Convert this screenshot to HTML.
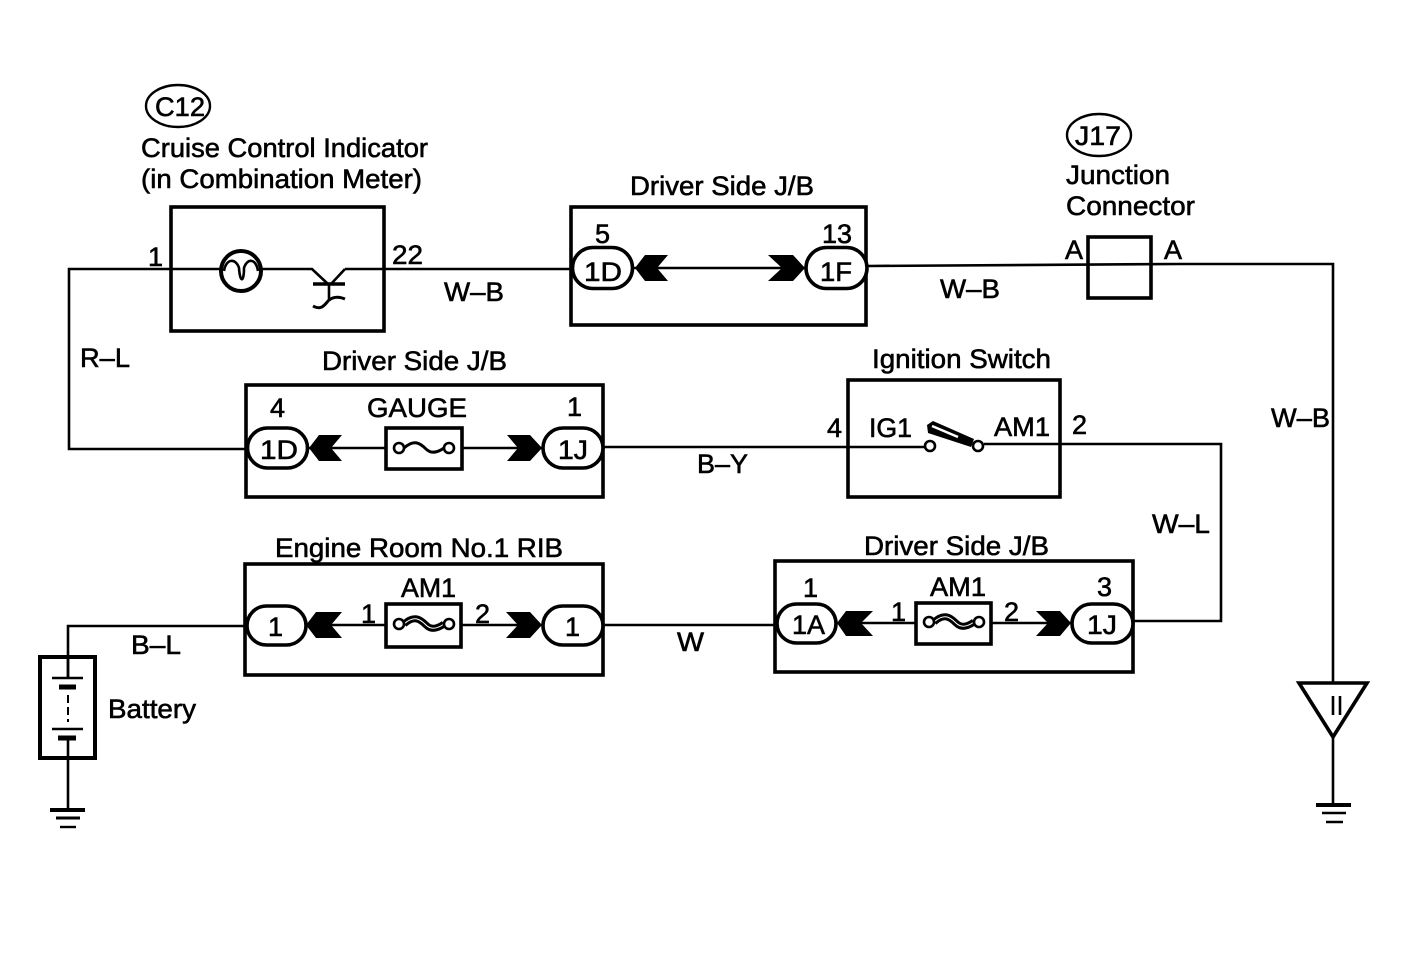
<!DOCTYPE html>
<html><head><meta charset="utf-8"><style>
html,body{margin:0;padding:0;background:#fff}
svg{display:block}
text{font-family:"Liberation Sans",sans-serif;font-size:27px;fill:#000;stroke:#000;stroke-width:.6px}
</style></head><body>
<svg width="1408" height="958" viewBox="0 0 1408 958" xmlns="http://www.w3.org/2000/svg">
<rect width="1408" height="958" fill="#fff"/>
<g fill="none" stroke="#000" stroke-width="2.6">
<path d="M220 269H69V449H247"/>
<path d="M262 269H312L328 284M345 269L331 284M345 269H571"/>
<path d="M868 266L1180 264H1333V683"/>
<path d="M634 268H805"/>
<path d="M308 448H542"/>
<path d="M603 447H925M984 444H1221V621H1133"/>
<path d="M305 625H542M603 625H777"/>
<path d="M836 623H1071"/>
<path d="M245 626H68V678"/>
<path d="M1333 738V804"/>
<path d="M68 738V810"/>
<path d="M329 284V300"/>
<path d="M313 306C322 311 325 304 329 300C333 297 338 296 345 299" stroke-width="3"/>
</g>
<g fill="none" stroke="#000" stroke-width="3.6">
<rect x="171" y="207" width="213" height="124"/>
<rect x="571" y="207" width="295" height="118"/>
<rect x="246" y="385" width="357" height="112"/>
<rect x="848" y="380" width="212" height="117"/>
<rect x="245" y="564" width="358" height="111"/>
<rect x="775" y="561" width="358" height="111"/>
<rect x="1088" y="237" width="63" height="61"/>
</g>
<rect x="40" y="657" width="55" height="101" fill="none" stroke="#000" stroke-width="4"/>
<g fill="#fff" stroke="#000" stroke-width="3.6">
<rect x="572.5" y="247.5" width="60" height="41" rx="20.5"/>
<rect x="806" y="247.5" width="61" height="41" rx="20.5"/>
<rect x="247.5" y="428" width="60" height="40" rx="20"/>
<rect x="543" y="428" width="60" height="40" rx="20"/>
<rect x="247" y="606" width="59" height="39" rx="19.5"/>
<rect x="543" y="606" width="60" height="39" rx="19.5"/>
<rect x="777" y="604" width="59" height="39" rx="19.5"/>
<rect x="1072" y="604" width="61" height="39" rx="19.5"/>
</g>
<g fill="#000">
<path d="M635 268L645 255H668L657 268L668 281H645Z"/>
<path d="M805 268L793 255H768L782 268L768 281H793Z"/>
<path d="M309 448L319 435H342L331 448L342 461H319Z"/>
<path d="M542 448L530 435H507L518 448L507 461H530Z"/>
<path d="M306 625L316 612H342L331 625L342 638H316Z"/>
<path d="M542 625L530 612H506L518 625L506 638H530Z"/>
<path d="M837 623L846 611H873L861 623L873 636H846Z"/>
<path d="M1071 623L1060 611H1036L1048 623L1036 636H1060Z"/>
<path d="M933 421L974 439L971 447L928 433L927 425Z"/>
</g>
<path d="M932 426L958 437" stroke="#fff" stroke-width="2.5" fill="none"/>
<g fill="#fff" stroke="#000" stroke-width="3.6">
<rect x="386" y="428" width="76" height="41"/>
<rect x="386" y="604" width="75" height="43"/>
<rect x="916" y="603" width="75" height="41"/>
</g>
<g fill="none" stroke="#000" stroke-width="3">
<path d="M404 448C414 439 420 443 426 449C431 454 437 453 444 448"/>
<path d="M404 624C414 615 420 619 426 625C431 630 437 629 444 624" stroke-width="7"/>
<path d="M934 622C944 613 950 617 956 623C961 628 967 627 974 622" stroke-width="7"/>
</g>
<g fill="none" stroke="#fff" stroke-width="1">
<path d="M404 624C414 615 420 619 426 625C431 630 437 629 444 624"/>
<path d="M934 622C944 613 950 617 956 623C961 628 967 627 974 622"/>
</g>
<g fill="#fff" stroke="#000" stroke-width="2.6">
<circle cx="399" cy="448" r="5"/><circle cx="449" cy="448" r="5"/>
<circle cx="399" cy="624" r="5"/><circle cx="449" cy="624" r="5"/>
<circle cx="929" cy="622" r="5"/><circle cx="979" cy="622" r="5"/>
<circle cx="930" cy="446" r="5"/><circle cx="978" cy="446" r="5"/>
</g>
<circle cx="241" cy="271" r="20" fill="#fff" stroke="#000" stroke-width="4"/>
<path d="M224 271C226 258 236 258 239 268C240 283 244 283 244 268C247 258 256 258 258 271" fill="none" stroke="#000" stroke-width="2.6"/>
<path d="M313 284H345" stroke="#000" stroke-width="3.4"/>
<ellipse cx="178" cy="106" rx="32" ry="21" fill="none" stroke="#000" stroke-width="2.4"/>
<ellipse cx="1099" cy="135" rx="32" ry="21" fill="none" stroke="#000" stroke-width="2.4"/>
<g stroke="#000" fill="none">
<path d="M52 678H83" stroke-width="2.4"/>
<path d="M59 687H76" stroke-width="5"/>
<path d="M68 657V678" stroke-width="2.6"/>
<path d="M68 695V722" stroke-width="2" stroke-dasharray="8 4"/>
<path d="M52 729H83" stroke-width="2.4"/>
<path d="M58 738H76" stroke-width="5"/>
<path d="M50 810H85" stroke-width="4"/>
<path d="M56 818H80" stroke-width="3"/>
<path d="M60 827H76" stroke-width="2.4"/>
<path d="M1316 805H1351" stroke-width="4"/>
<path d="M1322 813H1346" stroke-width="2.6"/>
<path d="M1326 822H1343" stroke-width="2.4"/>
<path d="M1299 683H1367L1333 737Z" stroke-width="3.6" stroke-linejoin="miter"/>
<path d="M1333 696V715M1340 696V715" stroke-width="2.6"/>
</g>
<text x="155" y="116" textLength="50" lengthAdjust="spacingAndGlyphs">C12</text>
<text x="141" y="157" textLength="287" lengthAdjust="spacingAndGlyphs">Cruise Control Indicator</text>
<text x="141" y="188" textLength="281" lengthAdjust="spacingAndGlyphs">(in Combination Meter)</text>
<text x="148" y="266">1</text>
<text x="392" y="264" textLength="31" lengthAdjust="spacingAndGlyphs">22</text>
<text x="444" y="301" textLength="60" lengthAdjust="spacingAndGlyphs">W–B</text>
<text x="630" y="195" textLength="184" lengthAdjust="spacingAndGlyphs">Driver Side J/B</text>
<text x="595" y="243">5</text>
<text x="822" y="243" textLength="30" lengthAdjust="spacingAndGlyphs">13</text>
<text x="584" y="281" textLength="38" lengthAdjust="spacingAndGlyphs">1D</text>
<text x="820" y="281" textLength="32" lengthAdjust="spacingAndGlyphs">1F</text>
<text x="940" y="298" textLength="60" lengthAdjust="spacingAndGlyphs">W–B</text>
<text x="1075" y="145" textLength="46" lengthAdjust="spacingAndGlyphs">J17</text>
<text x="1066" y="184" textLength="104" lengthAdjust="spacingAndGlyphs">Junction</text>
<text x="1066" y="215" textLength="129" lengthAdjust="spacingAndGlyphs">Connector</text>
<text x="1065" y="259">A</text>
<text x="1164" y="259">A</text>
<text x="80" y="367" textLength="50" lengthAdjust="spacingAndGlyphs">R–L</text>
<text x="322" y="370" textLength="185" lengthAdjust="spacingAndGlyphs">Driver Side J/B</text>
<text x="270" y="417">4</text>
<text x="367" y="417" textLength="100" lengthAdjust="spacingAndGlyphs">GAUGE</text>
<text x="567" y="416">1</text>
<text x="260" y="459" textLength="38" lengthAdjust="spacingAndGlyphs">1D</text>
<text x="558" y="459" textLength="30" lengthAdjust="spacingAndGlyphs">1J</text>
<text x="697" y="473" textLength="51" lengthAdjust="spacingAndGlyphs">B–Y</text>
<text x="872" y="368" textLength="179" lengthAdjust="spacingAndGlyphs">Ignition Switch</text>
<text x="827" y="437">4</text>
<text x="869" y="437" textLength="43" lengthAdjust="spacingAndGlyphs">IG1</text>
<text x="994" y="436" textLength="56" lengthAdjust="spacingAndGlyphs">AM1</text>
<text x="1072" y="434">2</text>
<text x="1152" y="533" textLength="58" lengthAdjust="spacingAndGlyphs">W–L</text>
<text x="1271" y="427" textLength="59" lengthAdjust="spacingAndGlyphs">W–B</text>
<text x="275" y="557" textLength="288" lengthAdjust="spacingAndGlyphs">Engine Room No.1 RIB</text>
<text x="401" y="597" textLength="55" lengthAdjust="spacingAndGlyphs">AM1</text>
<text x="361" y="623">1</text>
<text x="475" y="623">2</text>
<text x="268" y="636">1</text>
<text x="565" y="636">1</text>
<text x="677" y="651" textLength="27" lengthAdjust="spacingAndGlyphs">W</text>
<text x="864" y="555" textLength="185" lengthAdjust="spacingAndGlyphs">Driver Side J/B</text>
<text x="803" y="597">1</text>
<text x="930" y="596" textLength="56" lengthAdjust="spacingAndGlyphs">AM1</text>
<text x="1097" y="596">3</text>
<text x="891" y="621">1</text>
<text x="1004" y="621">2</text>
<text x="792" y="634" textLength="33" lengthAdjust="spacingAndGlyphs">1A</text>
<text x="1087" y="634" textLength="30" lengthAdjust="spacingAndGlyphs">1J</text>
<text x="131" y="654" textLength="50" lengthAdjust="spacingAndGlyphs">B–L</text>
<text x="108" y="718" textLength="88" lengthAdjust="spacingAndGlyphs">Battery</text>
</svg>
</body></html>
